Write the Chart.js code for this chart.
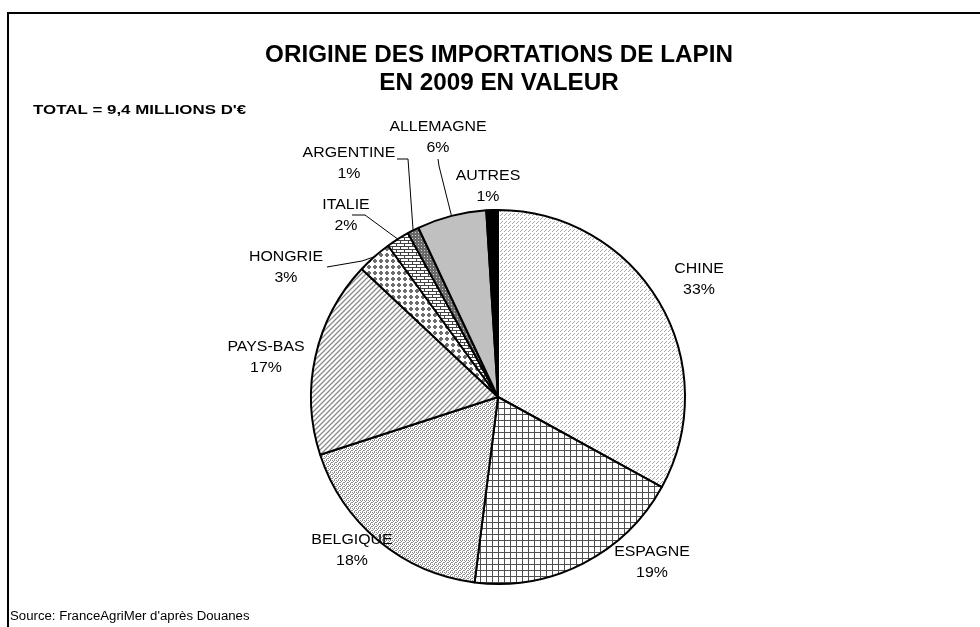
<!DOCTYPE html>
<html>
<head>
<meta charset="utf-8">
<script src="https://cdn.jsdelivr.net/npm/chart.js@4.4.1/dist/chart.umd.min.js"></script>
<style>
  body { margin: 0; background: #fff; }
  #graphe { display: block; }
</style>
</head>
<body>
<canvas id="graphe" width="980" height="627"></canvas>
<script>
// pays d'origine, dans le sens des aiguilles d'une montre depuis midi
const pays = ['CHINE', 'ESPAGNE', 'BELGIQUE', 'PAYS-BAS', 'HONGRIE', 'ITALIE', 'ARGENTINE', 'ALLEMAGNE', 'AUTRES']
// part en valeur (%)
const parts = [33, 19, 18, 17, 3, 2, 1, 6, 1]

const titre = ['ORIGINE DES IMPORTATIONS DE LAPIN', 'EN 2009 EN VALEUR']
const total = "TOTAL = 9,4 MILLIONS D'€"
const source = "Source: FranceAgriMer d'après Douanes"

// position des etiquettes (centre du nom) et trait de rappel eventuel
const etiquettes = [
  { x: 699, y: 269 },
  { x: 652, y: 552 },
  { x: 352, y: 540 },
  { x: 266, y: 347 },
  { x: 286, y: 257, trait: [[327, 267], [362, 261]] },
  { x: 346, y: 205, trait: [[352, 215], [365, 215]] },
  { x: 349, y: 153, trait: [[397, 159], [408, 159]] },
  { x: 438, y: 127, trait: [[438, 159], [439, 166]] },
  { x: 488, y: 176 }
]

// motifs de remplissage
function motif(w, h, dessin) {
  const c = document.createElement('canvas')
  c.width = w
  c.height = h
  const g = c.getContext('2d')
  g.fillStyle = '#fff'
  g.fillRect(0, 0, w, h)
  dessin(g)
  return c.getContext('2d').createPattern(c, 'repeat')
}

const motifChine = motif(4, 4, g => {
  g.fillStyle = '#a8a8a8'
  g.fillRect(0, 3, 1, 1)
  g.fillRect(1, 2, 1, 1)
  g.fillRect(2, 1, 1, 1)
})
const motifEspagne = motif(6, 6, g => {
  g.fillStyle = '#505050'
  g.fillRect(0, 0, 6, 1)
  g.fillRect(0, 0, 1, 6)
})
const motifBelgique = motif(4, 4, g => {
  g.fillStyle = '#8c8c8c'
  g.fillRect(0, 0, 1, 1)
  g.fillRect(2, 0, 1, 1)
  g.fillRect(1, 1, 1, 1)
  g.fillRect(0, 2, 1, 1)
  g.fillRect(3, 2, 1, 1)
  g.fillRect(2, 3, 1, 1)
})
const motifPaysBas = motif(5, 5, g => {
  g.strokeStyle = '#8a8a8a'
  g.lineWidth = 1.3
  g.beginPath()
  g.moveTo(-1, 6); g.lineTo(6, -1)
  g.moveTo(-1, 1); g.lineTo(1, -1)
  g.moveTo(4, 6); g.lineTo(6, 4)
  g.stroke()
})
const motifHongrie = motif(6, 6, g => {
  g.fillStyle = '#6e6e6e'
  g.fillRect(2, 1, 2, 4)
  g.fillRect(1, 2, 4, 2)
})
const motifItalie = motif(8, 6, g => {
  g.fillStyle = '#444'
  g.fillRect(0, 0, 8, 1)
  g.fillRect(0, 3, 8, 1)
  g.fillRect(0, 0, 1, 3)
  g.fillRect(4, 3, 1, 3)
})
const motifArgentine = motif(3, 3, g => {
  g.fillStyle = '#6a6a6a'
  g.fillRect(0, 0, 3, 3)
  g.fillStyle = '#cfcfcf'
  g.fillRect(1, 1, 1, 1)
})

const remplissages = [motifChine, motifEspagne, motifBelgique, motifPaysBas,
  motifHongrie, motifItalie, motifArgentine, '#c0c0c0', '#000']

const police = '"Liberation Sans", Arial, sans-serif'

// texte un peu elargi, comme le rendu d'origine
function texte(ctx, str, x, y, sx) {
  ctx.save()
  ctx.translate(x, y)
  ctx.scale(sx, 1)
  ctx.fillText(str, 0, 0)
  ctx.restore()
}

// cadre, titres, etiquettes et traits de rappel
const habillage = {
  id: 'habillage',
  afterDraw(chart) {
    const ctx = chart.ctx
    ctx.save()
    ctx.strokeStyle = '#000'
    ctx.lineWidth = 2
    ctx.beginPath()
    ctx.moveTo(8, 627)
    ctx.lineTo(8, 13)
    ctx.lineTo(980, 13)
    ctx.stroke()

    ctx.fillStyle = '#000'
    ctx.textAlign = 'center'
    ctx.textBaseline = 'middle'
    ctx.font = 'bold 24px ' + police
    texte(ctx, titre[0], 499, 55, 1.01)
    texte(ctx, titre[1], 499, 83, 1.01)

    ctx.textAlign = 'left'
    ctx.font = 'bold 13px ' + police
    texte(ctx, total, 33, 110, 1.3)
    ctx.font = '12px ' + police
    texte(ctx, source, 10, 617, 1.1)

    const arcs = chart.getDatasetMeta(0).data
    ctx.font = '15px ' + police
    ctx.textAlign = 'center'
    etiquettes.forEach((e, i) => {
      texte(ctx, pays[i], e.x, e.y, 1.06)
      texte(ctx, parts[i] + '%', e.x, e.y + 21, 1.06)
      if (e.trait) {
        const a = arcs[i]
        const milieu = (a.startAngle + a.endAngle) / 2
        const bx = a.x + Math.cos(milieu) * a.outerRadius
        const by = a.y + Math.sin(milieu) * a.outerRadius
        ctx.lineWidth = 1
        ctx.beginPath()
        ctx.moveTo(e.trait[0][0], e.trait[0][1])
        ctx.lineTo(e.trait[1][0], e.trait[1][1])
        ctx.lineTo(bx, by)
        ctx.stroke()
      }
    })
    ctx.restore()
  }
}

new Chart(document.getElementById('graphe'), {
  type: 'pie',
  data: {
    labels: pays,
    datasets: [{
      data: parts,
      backgroundColor: remplissages,
      borderColor: '#000',
      borderWidth: 2
    }]
  },
  options: {
    responsive: false,
    animation: false,
    layout: { padding: { top: 209, bottom: 42, left: 310, right: 294 } },
    plugins: {
      legend: { display: false },
      tooltip: { enabled: false }
    }
  },
  plugins: [habillage]
})
</script>
</body>
</html>
